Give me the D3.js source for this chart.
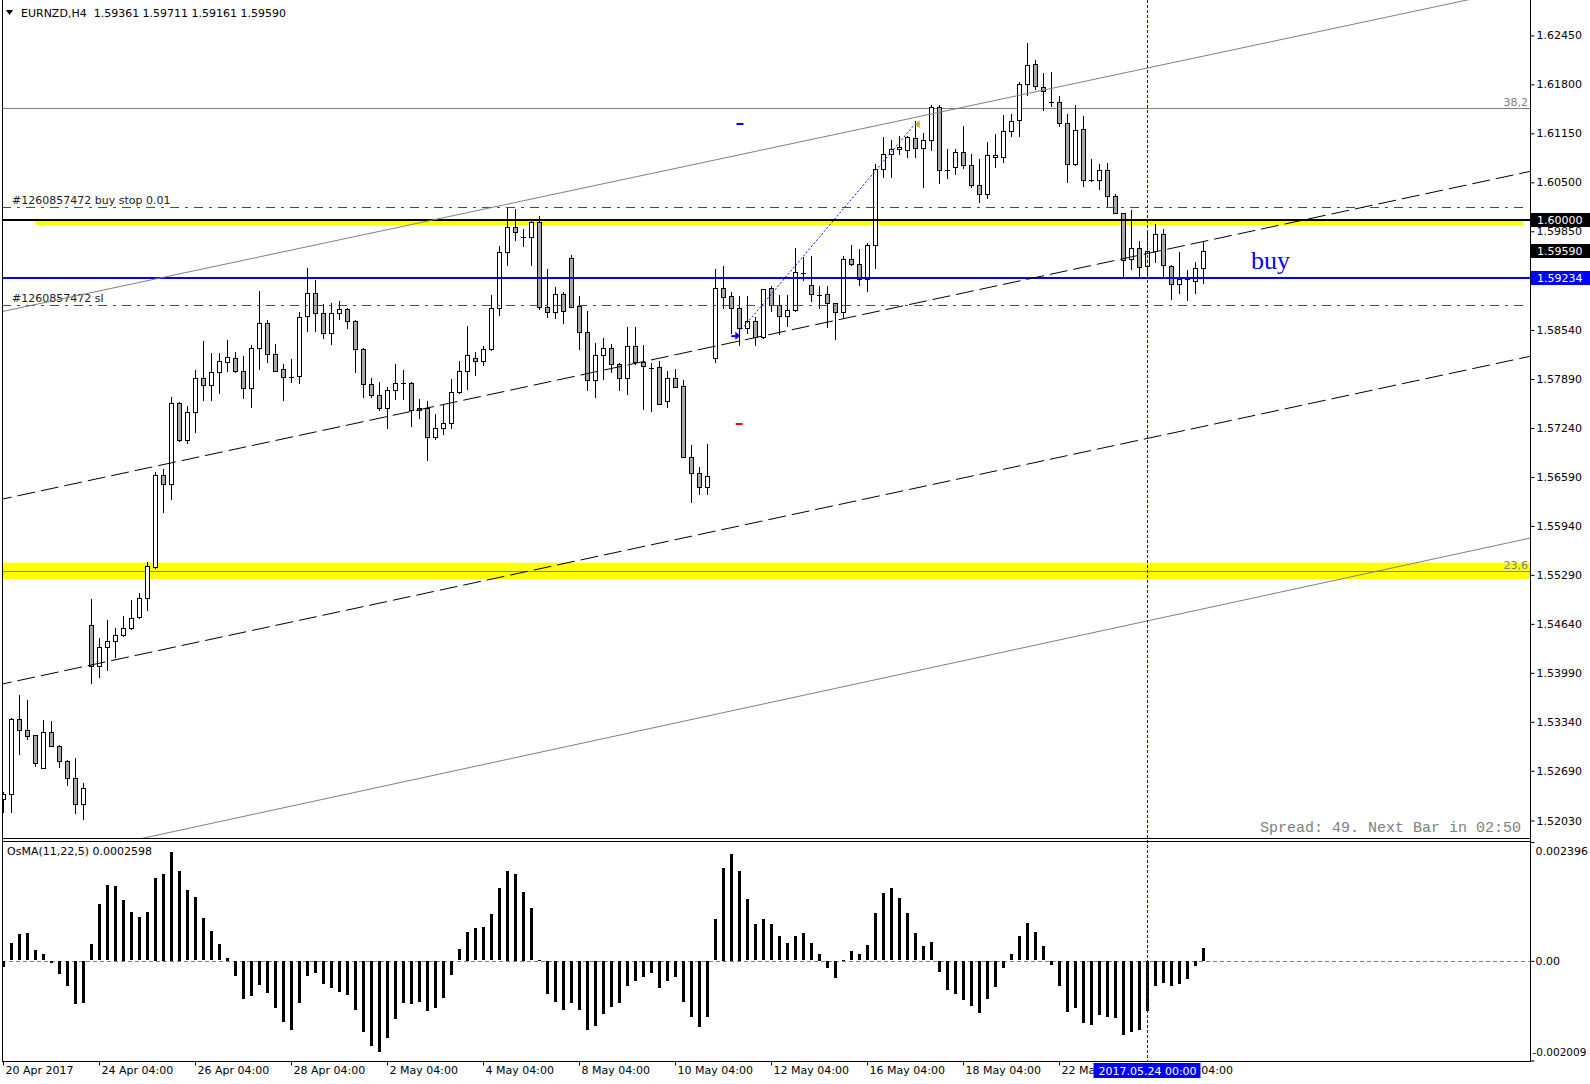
<!DOCTYPE html>
<html><head><meta charset="utf-8">
<script src="https://cdn.jsdelivr.net/npm/d3@7"></script>
<style>
html,body{margin:0;padding:0;background:#fff;}
svg{display:block;font-family:"DejaVu Sans",sans-serif;}
</style></head><body>
<svg id="c" width="1590" height="1084"></svg>
<script>
// ---------- DATA ----------
const openP = [1.52312,1.52378,1.53374,1.53228,1.53161,1.52732,1.53201,1.53015,1.52816,1.52591,
1.52246,1.54621,1.54085,1.54329,1.54409,1.54488,1.54581,1.54727,1.54980,1.55400,
1.56612,1.56492,1.57567,1.57084,1.57448,1.57899,1.57806,1.57979,1.58112,1.58165,
1.57992,1.57766,1.58297,1.58629,1.58218,1.58019,1.57913,1.57926,1.58722,1.59027,
1.58762,1.58496,1.58762,1.58815,1.58656,1.58284,1.57820,1.57674,1.57501,1.57740,
1.57833,1.57833,1.57475,1.57501,1.57116,1.57236,1.57302,1.57713,1.57992,1.58165,
1.58125,1.58284,1.58828,1.59571,1.59903,1.59770,1.59770,1.59969,1.58849,1.58775,
1.59014,1.59492,1.58855,1.58510,1.57873,1.58204,1.58297,1.58085,1.57899,1.58324,
1.58112,1.58045,1.58045,1.57594,1.57899,1.57793,1.56851,1.56638,1.56453,1.58165,
1.59094,1.58987,1.58828,1.58563,1.58656,1.58451,1.59094,1.58868,1.58722,1.58802,
1.59297,1.59133,1.59014,1.59014,1.58895,1.58775,1.59478,1.59412,1.59213,1.59664,
1.60673,1.60872,1.60938,1.60925,1.61084,1.60952,1.61058,1.61496,1.60660,1.60699,
1.60898,1.60726,1.60461,1.60341,1.60832,1.60832,1.61177,1.61323,1.61801,1.62066,
1.61761,1.61562,1.61562,1.61283,1.60739,1.61204,1.60527,1.60527,1.60660,1.60315,
1.60089,1.59478,1.59624,1.59386,1.59585,1.59810,1.59386,1.59147,1.59213,1.59186,
1.59361];
const highP = [1.52405,1.53387,1.53696,1.53630,1.53161,1.53361,1.53347,1.53030,1.52830,1.52856,
1.52524,1.54970,1.54449,1.54688,1.54581,1.54741,1.54953,1.55050,1.55457,1.56652,
1.56692,1.57651,1.57580,1.57528,1.58009,1.58394,1.58231,1.58231,1.58404,1.58244,
1.58191,1.58341,1.59054,1.58673,1.58350,1.58085,1.58151,1.58775,1.59363,1.59204,
1.58881,1.58895,1.58921,1.58828,1.58669,1.58297,1.57899,1.57846,1.57780,1.58089,
1.58009,1.57846,1.57620,1.57594,1.57421,1.57541,1.57886,1.58125,1.58593,1.58244,
1.58324,1.59001,1.59651,1.60169,1.60142,1.59877,1.60009,1.60049,1.59346,1.59107,
1.59041,1.59532,1.58987,1.58788,1.58364,1.58430,1.58350,1.58098,1.58576,1.58576,
1.58337,1.58098,1.58125,1.57992,1.58019,1.57873,1.57010,1.56718,1.57023,1.59346,
1.59394,1.59041,1.58987,1.58987,1.58709,1.59080,1.59120,1.59001,1.59001,1.59624,
1.59505,1.59522,1.59120,1.59120,1.58900,1.59518,1.59664,1.59611,1.59691,1.60739,
1.61098,1.61058,1.61111,1.61111,1.61310,1.61151,1.61522,1.61522,1.60938,1.60938,
1.61251,1.60872,1.60806,1.61031,1.61137,1.61389,1.61403,1.61827,1.62345,1.62119,
1.61947,1.61960,1.61642,1.61403,1.61522,1.61376,1.60806,1.60739,1.60752,1.60341,
1.60089,1.60129,1.59717,1.59823,1.59943,1.59877,1.59399,1.59571,1.59332,1.59439,
1.59711];
const lowP = [1.52147,1.52147,1.52917,1.53112,1.52758,1.52732,1.53015,1.52745,1.52506,1.52134,
1.52055,1.53860,1.53931,1.54032,1.54205,1.54475,1.54570,1.54715,1.54820,1.55380,
1.56129,1.56293,1.57071,1.57045,1.57191,1.57607,1.57607,1.57700,1.57992,1.57979,
1.57634,1.57514,1.58019,1.58112,1.57992,1.57607,1.57846,1.57833,1.58523,1.58523,
1.58430,1.58350,1.58682,1.58563,1.57976,1.57655,1.57647,1.57475,1.57236,1.57620,
1.57620,1.57262,1.57368,1.56811,1.57090,1.57156,1.57236,1.57700,1.57753,1.57939,
1.58072,1.58270,1.58735,1.59399,1.59731,1.59651,1.59399,1.58823,1.58709,1.58695,
1.58629,1.58840,1.58284,1.57748,1.57655,1.57894,1.57987,1.57740,1.57687,1.58085,
1.57496,1.57461,1.57554,1.57514,1.57780,1.56851,1.56254,1.56360,1.56360,1.58112,
1.58828,1.58496,1.58337,1.58496,1.58337,1.58440,1.58796,1.58483,1.58589,1.58790,
1.59200,1.58921,1.58828,1.58576,1.58417,1.58695,1.59399,1.59133,1.59054,1.59359,
1.60567,1.60567,1.60872,1.60832,1.60832,1.60434,1.60925,1.60487,1.60553,1.60606,
1.60686,1.60434,1.60235,1.60288,1.60699,1.60766,1.61111,1.61111,1.61655,1.61735,
1.61456,1.61509,1.61243,1.60508,1.60726,1.60447,1.60514,1.60407,1.60169,1.60089,
1.59253,1.59346,1.59253,1.59253,1.59439,1.59253,1.58948,1.59027,1.58934,1.59027,
1.59161];
const closeP = [1.52378,1.53374,1.53228,1.53156,1.52790,1.53201,1.53015,1.52816,1.52591,1.52246,
1.52458,1.54085,1.54329,1.54409,1.54488,1.54581,1.54714,1.54980,1.55404,1.56612,
1.56492,1.57567,1.57084,1.57448,1.57899,1.57806,1.57979,1.58125,1.58178,1.57992,
1.57766,1.58297,1.58629,1.58218,1.57992,1.57913,1.57913,1.58709,1.59027,1.58762,
1.58496,1.58762,1.58815,1.58656,1.58284,1.57820,1.57674,1.57501,1.57740,1.57833,
1.57833,1.57475,1.57501,1.57116,1.57236,1.57302,1.57713,1.57992,1.58204,1.58125,
1.58284,1.58828,1.59571,1.59903,1.59837,1.59770,1.59969,1.58849,1.58775,1.59014,
1.58788,1.58849,1.58510,1.57873,1.58204,1.58297,1.58085,1.57899,1.58324,1.58112,
1.58058,1.58040,1.57554,1.57899,1.57780,1.56851,1.56638,1.56453,1.56599,1.59094,
1.58974,1.58828,1.58563,1.58656,1.58443,1.59080,1.58868,1.58722,1.58802,1.59306,
1.59290,1.59014,1.59010,1.58895,1.58775,1.59478,1.59412,1.59213,1.59664,1.60673,
1.60872,1.60938,1.60965,1.61098,1.60952,1.61058,1.61496,1.60660,1.60660,1.60898,
1.60726,1.60461,1.60341,1.60859,1.60859,1.61177,1.61310,1.61801,1.62053,1.61774,
1.61708,1.61560,1.61283,1.60739,1.61190,1.60527,1.60527,1.60660,1.60315,1.60089,
1.59465,1.59624,1.59372,1.59585,1.59810,1.59399,1.59147,1.59213,1.59213,1.59359,
1.59590];
// OsMA(11,22,5) histogram, in units of 1e-4
const osmaTimes1e4 = [-1.21,3.50,5.32,5.52,2.09,1.28,-0.47,-2.69,-5.12,-8.76,
-8.49,3.30,11.38,15.22,15.02,12.26,9.77,8.76,9.77,16.64,
17.44,22.02,18.05,14.21,12.80,8.55,5.93,3.30,0.67,-3.10,
-7.61,-7.14,-4.85,-6.53,-9.43,-12.39,-13.87,-8.49,-3.10,-2.36,
-4.58,-5.46,-6.20,-6.94,-9.83,-14.41,-17.04,-18.25,-15.49,-11.65,
-8.55,-8.76,-8.35,-10.17,-9.43,-7.41,-2.90,2.29,5.86,6.53,
6.74,9.36,14.61,18.18,17.44,13.81,10.57,0.13,-6.74,-8.35,
-9.97,-8.49,-9.83,-14.01,-13.20,-10.78,-9.36,-8.55,-5.12,-4.11,
-3.30,-2.49,-5.52,-4.11,-3.30,-8.35,-11.38,-13.40,-11.38,8.35,
18.66,21.48,18.05,12.39,7.34,8.35,7.34,4.92,3.50,4.92,
5.52,3.50,1.48,-1.48,-3.50,0.20,1.89,1.28,3.10,9.56,
13.60,14.61,12.59,9.56,5.52,2.90,3.70,-2.29,-5.93,-6.74,
-7.95,-9.16,-10.57,-7.75,-5.32,-1.48,1.28,4.92,7.54,5.72,
2.90,-0.88,-5.12,-10.37,-9.56,-12.59,-13.00,-10.98,-11.38,-11.58,
-14.82,-14.41,-13.81,-10.17,-5.12,-4.51,-5.12,-4.71,-3.70,-1.08,
2.598];
const osmaValues = osmaTimes1e4.map(v => v / 1e4);

const priceTicks = [1.62450,1.61800,1.61150,1.60500,1.59850,1.58540,1.57890,1.57240,1.56590,1.55940,1.55290,1.54640,1.53990,1.53340,1.52690,1.52030];
const osmaTicks = [0.002396, 0, -0.002009];
const osmaTickLabels = ["0.002396", "0.00", "-0.002009"];
const timeTickBars = [0,12,24,36,48,60,72,84,96,108,120,132,144];
const timeTickLabels = ["20 Apr 2017","24 Apr 04:00","26 Apr 04:00","28 Apr 04:00","2 May 04:00","4 May 04:00","8 May 04:00","10 May 04:00","12 May 04:00","16 May 04:00","18 May 04:00","22 May 04:00","24 May 04:00"];

// chart objects
const fibLevels = [1.61482, 1.55342];
const fibLabels = ["38,2", "23,6"];
const yellowBandBars = [[4, 190], [-2, 192]];
const yellowBandPrices = [[1.60008, 1.59930], [1.55452, 1.55236]];
const hLinePrice = 1.60000;
const buyPrice = 1.59234;
const bidPrice = 1.59590;
const buyStopPrice = 1.60169;
const slPrice = 1.58868;
const channelUpperBars = [0, 150], channelUpperPrices = [1.58788, 1.62175];
const channelLowerBars = [24.5, 190.6], channelLowerPrices = [1.51958, 1.55773];
const dashUpperBars = [0, 150], dashUpperPrices = [1.56299, 1.59715];
const dashLowerBars = [0, 150], dashLowerPrices = [1.53845, 1.57261];
const tradeBars = [91.6, 113.9], tradePrices = [1.58465, 1.61270];
const tpMark = [92.0, 1.61270], slMark = [91.9, 1.57293];
const cursorBar = 143;
const cursorLabel = "2017.05.24 00:00";

// ---------- DRAW ----------
const W = 1590, H = 1084;
const PL = 2, PR = 1530, MT = 0, MB = 838, OT = 841, OB = 1061;
const svg = d3.select("#c");
svg.append("rect").attr("width", W).attr("height", H).attr("fill", "#fff");

const x = d3.scaleLinear().domain([0, 150]).range([3.5, 1203.5]);
const y = d3.scaleLinear().domain([1.52, 1.625]).range([822.8, 31.6]);
const yo = d3.scaleLinear().domain([-0.002009, 0.002396]).range([1060.5, 842]);
const cx = i => Math.floor(x(i));

const defs = svg.append("defs");
defs.append("clipPath").attr("id", "clipMain").append("rect")
  .attr("x", PL).attr("y", MT).attr("width", PR - PL).attr("height", MB - MT);
defs.append("clipPath").attr("id", "clipOs").append("rect")
  .attr("x", PL).attr("y", OT).attr("width", PR - PL).attr("height", OB - OT);
// time-axis clip: everything except the cursor label box
const boxL = x(cursorBar) - 54, boxR = x(cursorBar) + 53;
const cpT = defs.append("clipPath").attr("id", "clipTime");
cpT.append("rect").attr("x", 0).attr("y", OB - 5).attr("width", boxL).attr("height", H - OB + 5);
cpT.append("rect").attr("x", boxR).attr("y", OB - 5).attr("width", W - boxR).attr("height", H - OB + 5);

const gm = svg.append("g").attr("clip-path", "url(#clipMain)");

// yellow rectangles (background)
yellowBandBars.forEach((b, k) => {
  const y1 = y(yellowBandPrices[k][0]), y2 = y(yellowBandPrices[k][1]);
  gm.append("rect").attr("x", x(b[0])).attr("width", x(b[1]) - x(b[0]))
    .attr("y", y1).attr("height", y2 - y1).attr("fill", "#ffff00");
});

// fib lines
fibLevels.forEach((p, k) => {
  const yy = Math.round(y(p)) + 0.5;
  gm.append("line").attr("x1", PL).attr("x2", PR).attr("y1", yy).attr("y2", yy)
    .attr("stroke", "#808080").attr("stroke-width", 1);
  gm.append("text").attr("x", PR - 2).attr("y", yy - 3).attr("text-anchor", "end")
    .attr("font-size", 11).attr("fill", "#808080").text(fibLabels[k]);
});

// candles
const idx = d3.range(openP.length);
gm.append("g").selectAll("line").data(idx).join("line")
  .attr("x1", i => cx(i) + 0.5).attr("x2", i => cx(i) + 0.5)
  .attr("y1", i => Math.round(y(highP[i]))).attr("y2", i => Math.round(y(lowP[i])) + 1)
  .attr("stroke", "#000").attr("stroke-width", 1);
const bodies = idx.filter(i => Math.abs(y(openP[i]) - y(closeP[i])) >= 1);
const dojis = idx.filter(i => Math.abs(y(openP[i]) - y(closeP[i])) < 1);
gm.append("g").selectAll("rect").data(bodies).join("rect")
  .attr("x", i => cx(i) - 2 + 0.5).attr("width", 4)
  .attr("y", i => Math.round(y(Math.max(openP[i], closeP[i]))) + 0.5)
  .attr("height", i => Math.max(1, Math.round(y(Math.min(openP[i], closeP[i]))) - Math.round(y(Math.max(openP[i], closeP[i])))))
  .attr("fill", i => closeP[i] > openP[i] ? "#ffffff" : "#a9a9a9")
  .attr("stroke", "#000").attr("stroke-width", 1).attr("shape-rendering", "crispEdges");
gm.append("g").selectAll("line").data(dojis).join("line")
  .attr("x1", i => cx(i) - 2).attr("x2", i => cx(i) + 3)
  .attr("y1", i => Math.round(y(closeP[i])) + 0.5).attr("y2", i => Math.round(y(closeP[i])) + 0.5)
  .attr("stroke", "#000").attr("stroke-width", 1);

// horizontal lines
function hline(p, color, width, dash, x2) {
  const yy = Math.round(y(p)) + (width % 2 ? 0.5 : 0);
  const l = gm.append("line").attr("x1", PL).attr("x2", x2 || PR).attr("y1", yy).attr("y2", yy)
    .attr("stroke", color).attr("stroke-width", width);
  if (dash) l.attr("stroke-dasharray", dash);
}
hline(buyStopPrice, "#0b7a0b", 1, "9,6,3,6", 1526);
hline(slPrice, "#a52a2a", 1, "9,6,3,6", 1526);
hline(hLinePrice, "#000000", 2);
hline(buyPrice, "#0000ff", 2);

gm.append("text").attr("x", 12).attr("y", Math.round(y(buyStopPrice)) - 3).attr("font-size", 11)
  .attr("fill", "#1a1a1a").text("#1260857472 buy stop 0.01");
gm.append("text").attr("x", 12).attr("y", Math.round(y(slPrice)) - 3).attr("font-size", 11)
  .attr("fill", "#1a1a1a").text("#1260857472 sl");

// trend / channel lines (extended through the chart)
function extLine(b, p, color, dash) {
  const s = (p[1] - p[0]) / (b[1] - b[0]);
  const bA = -10, bB = 210;
  const l = gm.append("line")
    .attr("x1", x(bA)).attr("y1", y(p[0] + s * (bA - b[0])))
    .attr("x2", x(bB)).attr("y2", y(p[0] + s * (bB - b[0])))
    .attr("stroke", color).attr("stroke-width", 1);
  if (dash) l.attr("stroke-dasharray", dash);
}
extLine(channelUpperBars, channelUpperPrices, "#808080");
extLine(channelLowerBars, channelLowerPrices, "#808080");
extLine(dashUpperBars, dashUpperPrices, "#000", "18,6");
extLine(dashLowerBars, dashLowerPrices, "#000", "18,6");

// trade history
gm.append("line").attr("x1", x(tradeBars[0])).attr("y1", y(tradePrices[0]))
  .attr("x2", x(tradeBars[1])).attr("y2", y(tradePrices[1]))
  .attr("stroke", "#0000ff").attr("stroke-width", 1).attr("stroke-dasharray", "2,2");
{
  const ax = x(tradeBars[0]), ay = y(tradePrices[0]);
  gm.append("path").attr("d", `M${ax-5},${ay+0.5} L${ax+1},${ay+0.5}`).attr("stroke", "#0000ff").attr("stroke-width", 2);
  gm.append("path").attr("d", `M${ax+4},${ay} L${ax-1},${ay-4} L${ax-1},${ay+4} Z`).attr("fill", "#0000ff");
  const tx = x(tradeBars[1]), ty = y(tradePrices[1]);
  gm.append("path").attr("d", `M${tx},${ty} L${tx+5},${ty-4} L${tx+5},${ty+4} Z`).attr("fill", "#daa520");
}
[[tpMark, "#0000ff"], [slMark, "#ff0000"]].forEach(([m, c]) => {
  const mx = x(m[0]), my = Math.round(y(m[1]));
  gm.append("line").attr("x1", mx - 3).attr("x2", mx + 4).attr("y1", my).attr("y2", my)
    .attr("stroke", c).attr("stroke-width", 2);
});

// "buy" text
gm.append("text").attr("x", 1251).attr("y", 269).attr("font-family", "'Liberation Serif', serif")
  .attr("font-size", 26).attr("fill", "#0000ff").text("buy");

// spread text
gm.append("text").attr("x", 1521).attr("y", 832).attr("text-anchor", "end")
  .attr("font-family", "'Liberation Mono', monospace").attr("font-size", 15)
  .attr("fill", "#808080").text("Spread: 49. Next Bar in 02:50");

// header
svg.append("path").attr("d", "M6,10 L13,10 L9.5,15 Z").attr("fill", "#000");
svg.append("text").attr("x", 21).attr("y", 17).attr("font-size", 11).attr("fill", "#000")
  .attr("xml:space", "preserve").text("EURNZD,H4  1.59361 1.59711 1.59161 1.59590");

// ---------- OsMA pane ----------
const go = svg.append("g").attr("clip-path", "url(#clipOs)");
go.append("line").attr("x1", PL).attr("x2", PR).attr("y1", Math.round(yo(0)) + 0.5).attr("y2", Math.round(yo(0)) + 0.5)
  .attr("stroke", "#808080").attr("stroke-width", 1).attr("stroke-dasharray", "4,3");
go.append("g").selectAll("rect").data(idx).join("rect")
  .attr("x", i => cx(i) - 1).attr("width", 3)
  .attr("y", i => Math.round(Math.min(yo(osmaValues[i]), yo(0))))
  .attr("height", i => Math.max(1, Math.round(Math.abs(yo(osmaValues[i]) - yo(0)))))
  .attr("fill", "#000");
svg.append("text").attr("x", 7).attr("y", 855).attr("font-size", 11).attr("fill", "#000")
  .text("OsMA(11,22,5) 0.0002598");

// cursor vertical line
svg.append("line").attr("x1", x(cursorBar)).attr("x2", x(cursorBar)).attr("y1", MT).attr("y2", OB)
  .attr("stroke", "#0000ff").attr("stroke-width", 1).attr("stroke-dasharray", "3,2");

// ---------- frames ----------
const fr = svg.append("g").attr("stroke", "#000").attr("stroke-width", 1).attr("fill", "none").attr("shape-rendering", "crispEdges");
fr.append("line").attr("x1", PL + 0.5).attr("x2", PL + 0.5).attr("y1", 0).attr("y2", OB);
fr.append("line").attr("x1", PR + 0.5).attr("x2", PR + 0.5).attr("y1", 0).attr("y2", OB + 1);
fr.append("line").attr("x1", PL).attr("x2", PR).attr("y1", MB + 0.5).attr("y2", MB + 0.5);
fr.append("line").attr("x1", PL).attr("x2", PR).attr("y1", OT + 0.5).attr("y2", OT + 0.5);
fr.append("line").attr("x1", PL).attr("x2", PR + 1).attr("y1", OB + 0.5).attr("y2", OB + 0.5);

// ---------- axes ----------
const ayAxis = d3.axisRight(y).tickValues(priceTicks).tickFormat(d3.format(".5f")).tickSize(4).tickPadding(2);
const gay = svg.append("g").attr("transform", `translate(${PR + 0.5},0)`).call(ayAxis);
gay.select(".domain").remove();
gay.selectAll("text").attr("font-size", 11).attr("font-family", "DejaVu Sans").attr("fill", "#000");
gay.selectAll("line").attr("stroke", "#000");

const aoAxis = d3.axisRight(yo).tickValues(osmaTicks).tickFormat((d, i) => osmaTickLabels[i]).tickSize(4).tickPadding(1);
const gao = svg.append("g").attr("transform", `translate(${PR + 0.5},0)`).call(aoAxis);
gao.select(".domain").remove();
gao.selectAll("text").attr("font-family", "DejaVu Sans").attr("fill", "#000")
  .attr("font-size", (d, i) => i === 2 ? 10.5 : 11)
  .attr("x", (d, i) => i === 2 ? 2 : 5)
  .attr("dy", (d, i) => i === 0 ? "1.15em" : (i === 2 ? "-0.45em" : "0.32em"));
gao.selectAll("line").attr("stroke", "#000");

const axAxis = d3.axisBottom(x).tickValues(timeTickBars).tickFormat((d, i) => timeTickLabels[i]).tickSize(4).tickPadding(1);
const gax = svg.append("g").attr("clip-path", "url(#clipTime)").append("g")
  .attr("transform", `translate(0.5,${OB + 0.5})`).call(axAxis);
gax.select(".domain").remove();
gax.selectAll(".tick").attr("transform", d => `translate(${Math.floor(x(d))},0)`);
gax.selectAll("text").attr("font-size", 11).attr("font-family", "DejaVu Sans").attr("fill", "#000")
  .attr("text-anchor", "start").attr("x", 2);
gax.selectAll("line").attr("stroke", "#000");

// price label boxes
function priceBox(p, bg) {
  const yy = Math.round(y(p));
  svg.append("rect").attr("x", PR + 1).attr("y", yy - 7).attr("width", W - PR - 1).attr("height", 14).attr("fill", bg);
  svg.append("text").attr("x", PR + 7).attr("y", yy + 4).attr("font-size", 11).attr("fill", "#fff")
    .text(d3.format(".5f")(p));
}
priceBox(hLinePrice, "#000000");
priceBox(bidPrice, "#000000");
priceBox(buyPrice, "#0000ff");

// time cursor label
svg.append("rect").attr("x", boxL).attr("y", OB + 2).attr("width", boxR - boxL).attr("height", 15).attr("fill", "#0000ff");
svg.append("text").attr("x", x(cursorBar)).attr("y", OB + 14).attr("text-anchor", "middle").attr("font-size", 11)
  .attr("fill", "#fff").text(cursorLabel);
</script>
</body></html>
